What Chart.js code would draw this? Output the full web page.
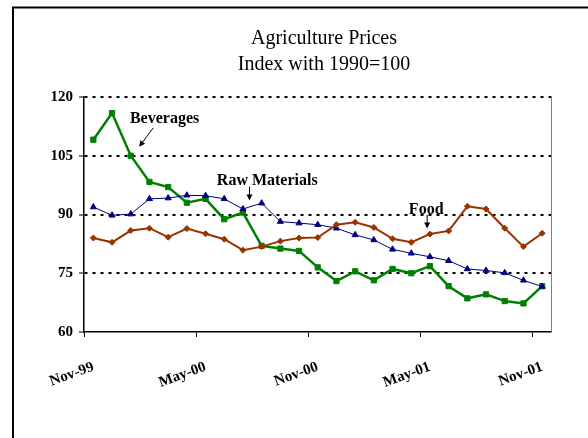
<!DOCTYPE html>
<html>
<head>
<meta charset="utf-8">
<script src="https://cdn.jsdelivr.net/npm/chart.js@4"></script>
<style>
  html, body { margin: 0; padding: 0; background: #fff; }
</style>
</head>
<body>
<canvas id="chart" width="588" height="438"></canvas>
<script>
const months = [
  "Nov-99", "Dec-99", "Jan-00", "Feb-00", "Mar-00", "Apr-00", "May-00",
  "Jun-00", "Jul-00", "Aug-00", "Sep-00", "Oct-00", "Nov-00", "Dec-00",
  "Jan-01", "Feb-01", "Mar-01", "Apr-01", "May-01", "Jun-01", "Jul-01",
  "Aug-01", "Sep-01", "Oct-01", "Nov-01"
];
const beverages = [
  109.1, 115.9, 105.0, 98.3, 97.0, 93.0, 94.0, 88.8, 90.5, 82.0, 81.3, 80.7, 76.5,
  73.0, 75.5, 73.2, 76.1, 75.0, 76.8, 71.7, 68.6, 69.6, 67.9, 67.3, 71.7
];
const rawMaterials = [
  91.9, 89.8, 90.1, 94.0, 94.2, 94.9, 94.8, 94.0, 91.4, 92.9, 88.2, 87.8, 87.4,
  86.5, 84.8, 83.5, 81.1, 80.1, 79.2, 78.2, 76.1, 75.7, 75.1, 73.2, 71.6
];
const food = [
  84.0, 82.9, 85.9, 86.5, 84.2, 86.4, 85.1, 83.7, 80.9, 81.8, 83.2, 84.0, 84.1,
  87.4, 88.0, 86.7, 83.8, 82.9, 85.0, 85.8, 92.1, 91.4, 86.5, 81.8, 85.2
];
const shownMonths = ["Nov-99", "May-00", "Nov-00", "May-01", "Nov-01"];
const titleLines = ["Agriculture Prices", "Index with 1990=100"];

const serif = "'Liberation Serif', 'Times New Roman', serif";

// text notes with arrows, placed in data units (category index, value)
const notes = [
  { text: "Beverages", x: 3.81, y: 114.4, from: [3.2, 112.1], to: [2.45, 107.3] },
  { text: "Raw Materials", x: 9.3, y: 98.65, from: [8.35, 97.1], to: [8.35, 93.6] },
  { text: "Food", x: 17.8, y: 91.3, from: [17.85, 89.9], to: [17.85, 86.4] }
];

const frame = {
  id: "frame",
  beforeDraw(chart) {
    const ctx = chart.ctx;
    ctx.save();
    ctx.fillStyle = "#fff";
    ctx.fillRect(0, 0, chart.width, chart.height);
    ctx.strokeStyle = "#000";
    ctx.lineWidth = 2;
    ctx.strokeRect(13, 7.5, 700, 600);
    ctx.restore();
  },
  beforeDatasetsDraw(chart) {
    const { ctx, chartArea: a } = chart;
    ctx.save();
    ctx.strokeStyle = "#808080";
    ctx.lineWidth = 1;
    ctx.beginPath();
    ctx.moveTo(a.right, a.top);
    ctx.lineTo(a.right, a.bottom);
    ctx.stroke();
    ctx.restore();
  },
  afterDatasetsDraw(chart) {
    const ctx = chart.ctx;
    const xs = chart.scales.x, ys = chart.scales.y;
    ctx.save();
    ctx.fillStyle = "#000";
    ctx.strokeStyle = "#000";
    ctx.font = "bold 16px " + serif;
    ctx.textAlign = "center";
    ctx.textBaseline = "middle";
    notes.forEach(n => {
      ctx.fillText(n.text, xs.getPixelForValue(n.x), ys.getPixelForValue(n.y));
      const x1 = xs.getPixelForValue(n.from[0]), y1 = ys.getPixelForValue(n.from[1]);
      const x2 = xs.getPixelForValue(n.to[0]), y2 = ys.getPixelForValue(n.to[1]);
      const ang = Math.atan2(y2 - y1, x2 - x1);
      ctx.lineWidth = 1;
      ctx.beginPath();
      ctx.moveTo(x1, y1);
      ctx.lineTo(x2 - 4 * Math.cos(ang), y2 - 4 * Math.sin(ang));
      ctx.stroke();
      ctx.beginPath();
      ctx.moveTo(x2, y2);
      ctx.lineTo(x2 - 6 * Math.cos(ang) + 3 * Math.sin(ang), y2 - 6 * Math.sin(ang) - 3 * Math.cos(ang));
      ctx.lineTo(x2 - 6 * Math.cos(ang) - 3 * Math.sin(ang), y2 - 6 * Math.sin(ang) + 3 * Math.cos(ang));
      ctx.closePath();
      ctx.fill();
    });
    ctx.restore();
  },
  afterDraw(chart) {
    const ctx = chart.ctx;
    ctx.save();
    ctx.fillStyle = "#000";
    ctx.font = "20px " + serif;
    ctx.textAlign = "center";
    ctx.textBaseline = "alphabetic";
    ctx.fillText(titleLines[0], 324, 43.5);
    ctx.fillText(titleLines[1], 324, 69.5);
    ctx.restore();
  }
};

new Chart(document.getElementById("chart"), {
  type: "line",
  data: {
    labels: months,
    datasets: [
      {
        label: "Food",
        data: food,
        borderColor: "#993300",
        backgroundColor: "#993300",
        borderWidth: 2,
        pointStyle: "rectRot",
        pointRadius: 3,
        pointBorderWidth: 1,
        tension: 0
      },
      {
        label: "Raw Materials",
        data: rawMaterials,
        borderColor: "#000080",
        backgroundColor: "#000080",
        borderWidth: 1,
        pointStyle: "triangle",
        pointRadius: 3.5,
        pointBorderWidth: 1,
        tension: 0
      },
      {
        label: "Beverages",
        data: beverages,
        borderColor: "#008000",
        backgroundColor: "#008000",
        borderWidth: 2.5,
        pointStyle: "rect",
        pointRadius: 3.7,
        pointBorderWidth: 1,
        tension: 0
      }
    ]
  },
  options: {
    responsive: false,
    animation: false,
    layout: { padding: { left: 20, right: 36.5, top: 97, bottom: 40 } },
    plugins: {
      legend: { display: false },
      title: { display: false },
      tooltip: { enabled: false }
    },
    scales: {
      x: {
        offset: true,
        afterFit(scale) { scale.height = 66; },
        grid: {
          offset: true,
          drawOnChartArea: false,
          drawTicks: true,
          tickLength: 5,
          color: ctx => (ctx.index % 6 === 0 && ctx.index < months.length) ? "#000" : "rgba(0,0,0,0)",
          lineWidth: 1
        },
        border: { display: true, color: "#000", width: 1.5 },
        ticks: {
          autoSkip: false,
          maxRotation: 20,
          minRotation: 20,
          padding: 21,
          color: "#000",
          font: { family: serif, size: 15, weight: "bold" },
          callback: function (value) {
            const m = this.getLabelForValue(value);
            return shownMonths.includes(m) ? m : "";
          }
        }
      },
      y: {
        min: 60,
        max: 120,
        afterFit(scale) { scale.width = 64; },
        grid: {
          drawTicks: true,
          tickLength: 5,
          tickColor: "#000",
          tickWidth: 1,
          lineWidth: 2,
          color: ctx => ctx.tick && ctx.tick.value === 60 ? "rgba(0,0,0,0)" : "#000"
        },
        border: { display: true, color: "#000", width: 1.5, dash: [3, 5] },
        ticks: {
          stepSize: 15,
          padding: 6,
          color: "#000",
          font: { family: serif, size: 15, weight: "bold" }
        }
      }
    }
  },
  plugins: [frame]
});
</script>
</body>
</html>
